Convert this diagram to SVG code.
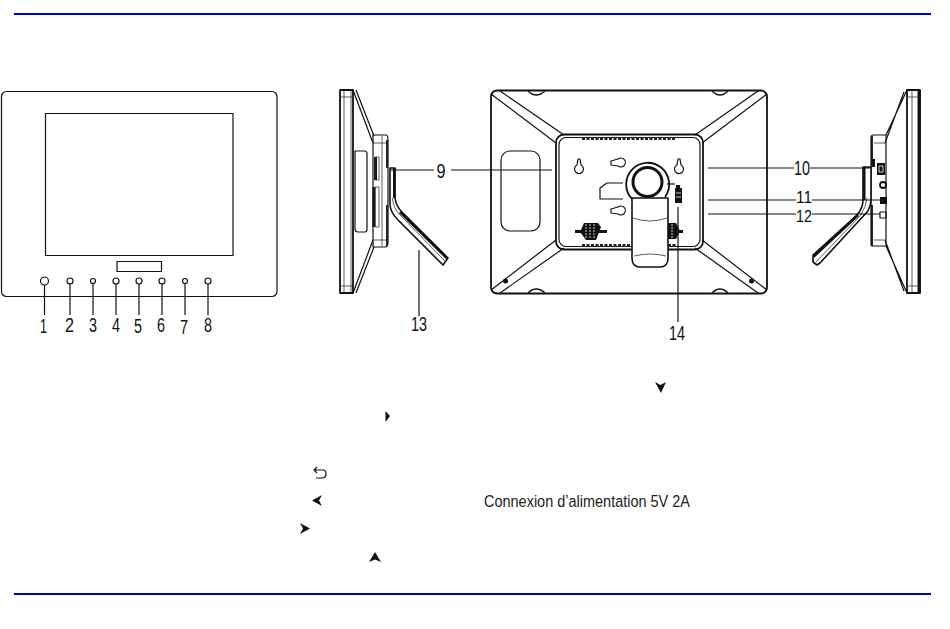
<svg xmlns="http://www.w3.org/2000/svg" width="950" height="629" viewBox="0 0 950 629">
<style>
.o{fill:none;stroke:#111;stroke-width:1.2;stroke-linejoin:round}
.m{fill:none;stroke:#111;stroke-width:1.8;stroke-linejoin:round}
.h{fill:none;stroke:#111;stroke-width:3;stroke-linejoin:round}
.t{fill:none;stroke:#333;stroke-width:.8}
.k{fill:#111;stroke:none}
.s{fill:#fff;stroke:#111;stroke-width:1.6;stroke-linejoin:round}
.v{fill:none;stroke:#222;stroke-width:3;stroke-dasharray:3 1.500}
.c line{stroke:#111;stroke-width:1.2}
.n{font-family:"Liberation Sans",Arial,sans-serif;font-size:20px;fill:#111;text-anchor:middle}
.r{stroke:#0000c8;stroke-width:2}
</style>
<line class="r" x1="14" y1="14" x2="931" y2="14"/>
<line class="r" x1="14" y1="594" x2="931" y2="594"/>

<g id="front-view">
<rect class="o" x="1.500" y="91.500" width="275.500" height="205" rx="5"/>
<rect class="o" x="45.500" y="113.500" width="187.500" height="142"/>
<rect class="o" x="117" y="261.500" width="44.500" height="10"/>
<circle class="o" cx="44.500" cy="281" r="4"/>
<circle class="o" cx="70" cy="281" r="3"/>
<circle class="o" cx="93" cy="281" r="2.500"/>
<circle class="o" cx="116" cy="281" r="3"/>
<circle class="o" cx="139" cy="281" r="3"/>
<circle class="o" cx="162" cy="281" r="3"/>
<circle class="o" cx="185" cy="281" r="2.500"/>
<circle class="o" cx="208" cy="281" r="3"/>
</g>

<g id="side-view-left">
<path class="m" d="M340 90H353V293H340Z"/>
<path class="t" d="M344 90V293M351 90V293M340 97H353M340 286H353"/>
<path class="o" d="M353 90L373 143M356 90L374 136M353 293L373 240M356 293L374 247"/>
<path class="o" d="M373 135H386Q388 135 388 140V242Q388 247 385 247H373Z"/>
<path class="t" d="M373 143H387M373 240H387M382 136V246"/>
<path class="m" d="M387 140V168M387 205V246"/>
<path class="o" d="M355 151H365Q367 151 367 154V229Q367 232 365 232H358Q355 232 355 229Z"/>
<path class="h" d="M375.500 157V180M374 187V227"/>
<path class="t" d="M375 157H379V180H375ZM375 187H379V227H375Z"/>
<path class="s" d="M390 168H395V198Q396 206 402 212L448 258L443 265L398 220Q390 212 390 204Z"/>
<path class="t" d="M392.500 198Q393 208 400 215L445 261"/>
<path class="k" d="M393 168H395.500V198H393ZM401 211L448 258L447 260L399 213Z"/>
</g>

<g id="back-view">
<rect class="m" x="491" y="90.500" width="276" height="203" rx="6"/>
<path class="o" d="M491 94L556 143M500 91L564 135M767 94L702 143M758 91L695 135M491 290L556 240M500 293L564 248M767 290L702 240M758 293L695 248"/>
<rect class="m" x="556" y="134.500" width="147" height="115" rx="8"/>
<rect class="o" x="559" y="137.500" width="141" height="109" rx="7"/>
<rect class="o" x="501" y="151" width="39" height="80" rx="9"/>
<path class="o" d="M528 91Q536 99 545 91M712 91Q720 99 728 91M528 293Q536 285 545 293M712 293Q720 285 728 293"/>
<path class="v" d="M582 138.500H676M582 245.500H631M668 245.500H676"/>
<path class="o" d="M578 159H580L581 165A4.500 4.500 0 1 1 577 165ZM678 159H680L681 165A4.500 4.500 0 1 1 677 165Z"/>
<path class="o" d="M611 161V165L618 166A4.500 4.500 0 1 0 618 159ZM611 209V213L618 214A4.500 4.500 0 1 0 618 207Z"/>
<path class="o" d="M623 183H607L600 188V199H623"/>
<path class="m" d="M632 199A21.500 21.500 0 1 1 665 197"/>
<circle class="h" cx="647.500" cy="182" r="14.500"/>
<path class="o" d="M667 184H675"/>
<path class="s" d="M632 198H668V258Q668 267 660 267H640Q632 267 632 258Z"/>
<path class="t" d="M633 218Q650 224 667 218M634 256Q650 252 666 256"/>
<path class="h" d="M575 231.500H607M668 231.500H683"/>
<path class="k" d="M584 223H598L601 227L596 240H586L580 232ZM668 223H676L680 231L676 239H668Z"/>
<path class="t" stroke-dasharray="2 1" d="M586 224V239M590 224V239M594 224V239M672 224V239" style="stroke:#fff"/>
<path class="k" d="M676 185H680V188H682V203H675V188H676Z"/>
<path class="t" d="M676 193H681M676 197H681" style="stroke:#fff"/>
<circle class="k" cx="505.500" cy="281" r="2.500"/><circle class="k" cx="751.500" cy="281" r="2.500"/>
</g>

<g id="side-view-right">
<path class="m" d="M907 90H920V293H907Z"/>
<path class="h" d="M919 90V293"/>
<path class="t" d="M907 97H919M907 286H919M912 90V293"/>
<path class="o" d="M907 90L886 135M904 92L885 143M907 293L886 246M904 291L885 240"/>
<path class="o" d="M886 135H873Q871 135 871 138V244Q871 246 873 246H886Z"/>
<path class="t" d="M874 143H886M874 240H886"/>
<path class="m" d="M872 136V166M872 205V246"/>
<path class="s" d="M863 167H871V200Q871 205 868 211L820 263L817 265L813 262L813 255L857 215Q863 208 863 200Z"/>
<path class="t" d="M867 198Q866 208 860 216L816 262"/>
<path class="k" d="M863 167H865.500V200H863ZM857 214L813 255L814 258L859 216Z"/>
<path class="k" d="M872 159H875V167H872Z"/>
<path class="k" d="M877 163H885V175H877Z"/>
<path class="t" d="M879 166H883V172H879Z" style="stroke:#fff"/>
<circle class="m" cx="883" cy="185" r="3"/>
<path class="k" d="M880 197H887V204H880Z"/>
<path class="o" d="M880 212H886V218H880Z"/>
</g>

<g id="connectors" class="c">
<line x1="44.500" y1="285" x2="44.500" y2="315"/>
<line x1="70" y1="284" x2="70" y2="315"/>
<line x1="93" y1="284" x2="93" y2="315"/>
<line x1="116" y1="284" x2="116" y2="315"/>
<line x1="139" y1="284" x2="139" y2="315"/>
<line x1="162" y1="284" x2="162" y2="315"/>
<line x1="185" y1="284" x2="185" y2="315"/>
<line x1="208" y1="284" x2="208" y2="315"/>
<line x1="390" y1="170" x2="434" y2="170"/>
<line x1="451" y1="170" x2="552" y2="170"/>
<line x1="419" y1="250" x2="419" y2="316"/>
<line x1="678" y1="207" x2="678" y2="322"/>
<line x1="708" y1="168" x2="794" y2="168"/>
<line x1="810" y1="168" x2="870" y2="168"/>
<line x1="708" y1="200" x2="796" y2="200"/>
<line x1="812" y1="200" x2="880" y2="200"/>
<line x1="708" y1="214" x2="796" y2="214"/>
<line x1="812" y1="214" x2="880" y2="214"/>
</g>

<g id="labels">
<text class="n" x="43.500" y="333" textLength="7" lengthAdjust="spacingAndGlyphs">1</text>
<text class="n" x="69.500" y="332" textLength="9" lengthAdjust="spacingAndGlyphs">2</text>
<text class="n" x="93" y="332" textLength="8" lengthAdjust="spacingAndGlyphs">3</text>
<text class="n" x="116" y="332" textLength="8" lengthAdjust="spacingAndGlyphs">4</text>
<text class="n" x="138" y="333" textLength="8" lengthAdjust="spacingAndGlyphs">5</text>
<text class="n" x="161" y="332" textLength="8" lengthAdjust="spacingAndGlyphs">6</text>
<text class="n" x="184" y="334" textLength="8" lengthAdjust="spacingAndGlyphs">7</text>
<text class="n" x="208" y="332" textLength="8" lengthAdjust="spacingAndGlyphs">8</text>
<text class="n" x="441" y="178" textLength="9" lengthAdjust="spacingAndGlyphs">9</text>
<text class="n" x="419" y="331" textLength="16" lengthAdjust="spacingAndGlyphs">13</text>
<text class="n" x="677" y="340" textLength="16" lengthAdjust="spacingAndGlyphs">14</text>
<text class="n" x="802" y="175" textLength="16" lengthAdjust="spacingAndGlyphs">10</text>
<text class="n" x="804" y="202.500" textLength="16" lengthAdjust="spacingAndGlyphs" style="font-size:17px">11</text>
<text class="n" x="804" y="222" textLength="16" lengthAdjust="spacingAndGlyphs" style="font-size:17px">12</text>
<text x="484" y="507" font-family="'Liberation Sans',Arial,sans-serif" font-size="16" fill="#222" textLength="206" lengthAdjust="spacingAndGlyphs">Connexion d’alimentation 5V 2A</text>
</g>

<g id="symbols">
<path class="k" d="M655 382L660.500 385L666 382L661 393Z"/>
<path class="k" d="M385.500 411L390 416L385.500 422Z"/>
<path class="o" d="M315 470H323Q326 470 326 474Q326 478 322 478H316M317 467L314 470L317 473"/>
<path class="k" d="M322 495L312 500.500L322 506L319 500.500Z"/>
<path class="k" d="M300 523L310 528.500L300 534L303 528.500Z"/>
<path class="k" d="M375 552L381 562L375 559.500L369 562Z"/>
</g>
</svg>
